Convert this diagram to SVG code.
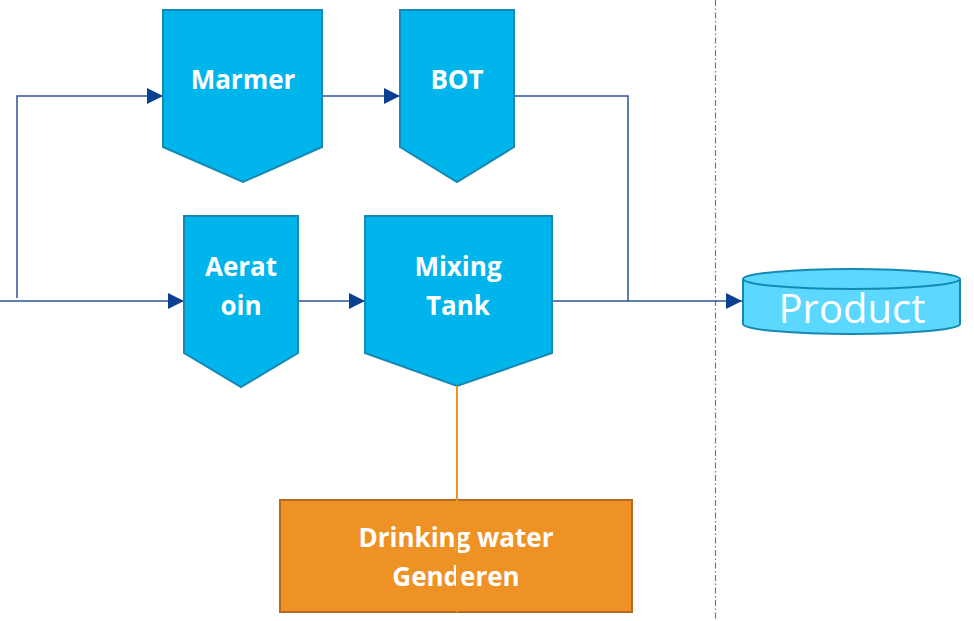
<svg xmlns="http://www.w3.org/2000/svg" width="974" height="621" viewBox="0 0 974 621">
<style>
.proc{fill:#00B5EC;stroke:#1689B2;stroke-width:2}
.lbl{font-family:"Open Sans","Liberation Sans",sans-serif;font-weight:700;font-size:26px;fill:#FFFFFF;text-anchor:middle}
.conn{fill:none;stroke:#2A5398;stroke-width:1.5}
</style>
<defs>
<marker id="arr" viewBox="0 0 10 10" refX="10" refY="5" markerWidth="16" markerHeight="16" markerUnits="userSpaceOnUse" orient="auto">
<path d="M0,0 L10,5 L0,10 Z" fill="#0B3F8F"/>
</marker>
</defs>
<rect width="974" height="621" fill="#FFFFFF"/>
<line x1="715.5" y1="0" x2="715.5" y2="621" stroke="#5B7DB5" stroke-width="1.2" stroke-dasharray="6,2.5,1.5,2.5"/>
<g id="connectors">
<polyline class="conn" points="17,298 17,96 163,96" marker-end="url(#arr)"/>
<polyline class="conn" points="0,301 184,301" marker-end="url(#arr)"/>
<polyline class="conn" points="322,96 400,96" marker-end="url(#arr)"/>
<polyline class="conn" points="298,301 365,301" marker-end="url(#arr)"/>
<polyline class="conn" points="514,96 628,96 628,301"/>
<polyline class="conn" points="552,301 742,301" marker-end="url(#arr)"/>
</g>
<g id="marmer">
<path class="proc" d="M163,10 L322,10 L322,147 L243,182 L163,147 Z"/>
<text class="lbl" x="243" y="89">Marmer</text>
</g>
<g id="bot">
<path class="proc" d="M400,10 L514,10 L514,147 L457,182 L400,147 Z"/>
<text class="lbl" x="457" y="89">BOT</text>
</g>
<g id="aeration">
<path class="proc" d="M184,216 L298,216 L298,353 L241,387 L184,353 Z"/>
<text class="lbl" x="241" y="276">Aerat</text>
<text class="lbl" x="241" y="315">oin</text>
</g>
<g id="mixing">
<path class="proc" d="M365,216 L552,216 L552,353 L457,386 L365,353 Z"/>
<text class="lbl" x="458" y="276">Mixing</text>
<text class="lbl" x="458" y="315">Tank</text>
</g>
<g id="product">
<path d="M743,279 L743,324 A108.5,10 0 0 0 960,324 L960,279" fill="#5CD8FF" stroke="#1689B2" stroke-width="2"/>
<ellipse cx="851.5" cy="279" rx="108.5" ry="10" fill="#5CD8FF" stroke="#1689B2" stroke-width="2"/>
<text x="852" y="323" font-family="Open Sans, Liberation Sans, sans-serif" font-size="40" fill="#FFFFFF" text-anchor="middle">Product</text>
</g>
<g id="drinking">
<rect x="280" y="500" width="352" height="112" fill="#EE9226" stroke="#B86A1E" stroke-width="2"/>
<text class="lbl" x="456" y="547">Drinking water</text>
<text class="lbl" x="456" y="586">Genderen</text>
</g>
<g id="link">
<line x1="457" y1="386" x2="457" y2="612" stroke="#EE9226" stroke-width="2"/>
</g>
</svg>
